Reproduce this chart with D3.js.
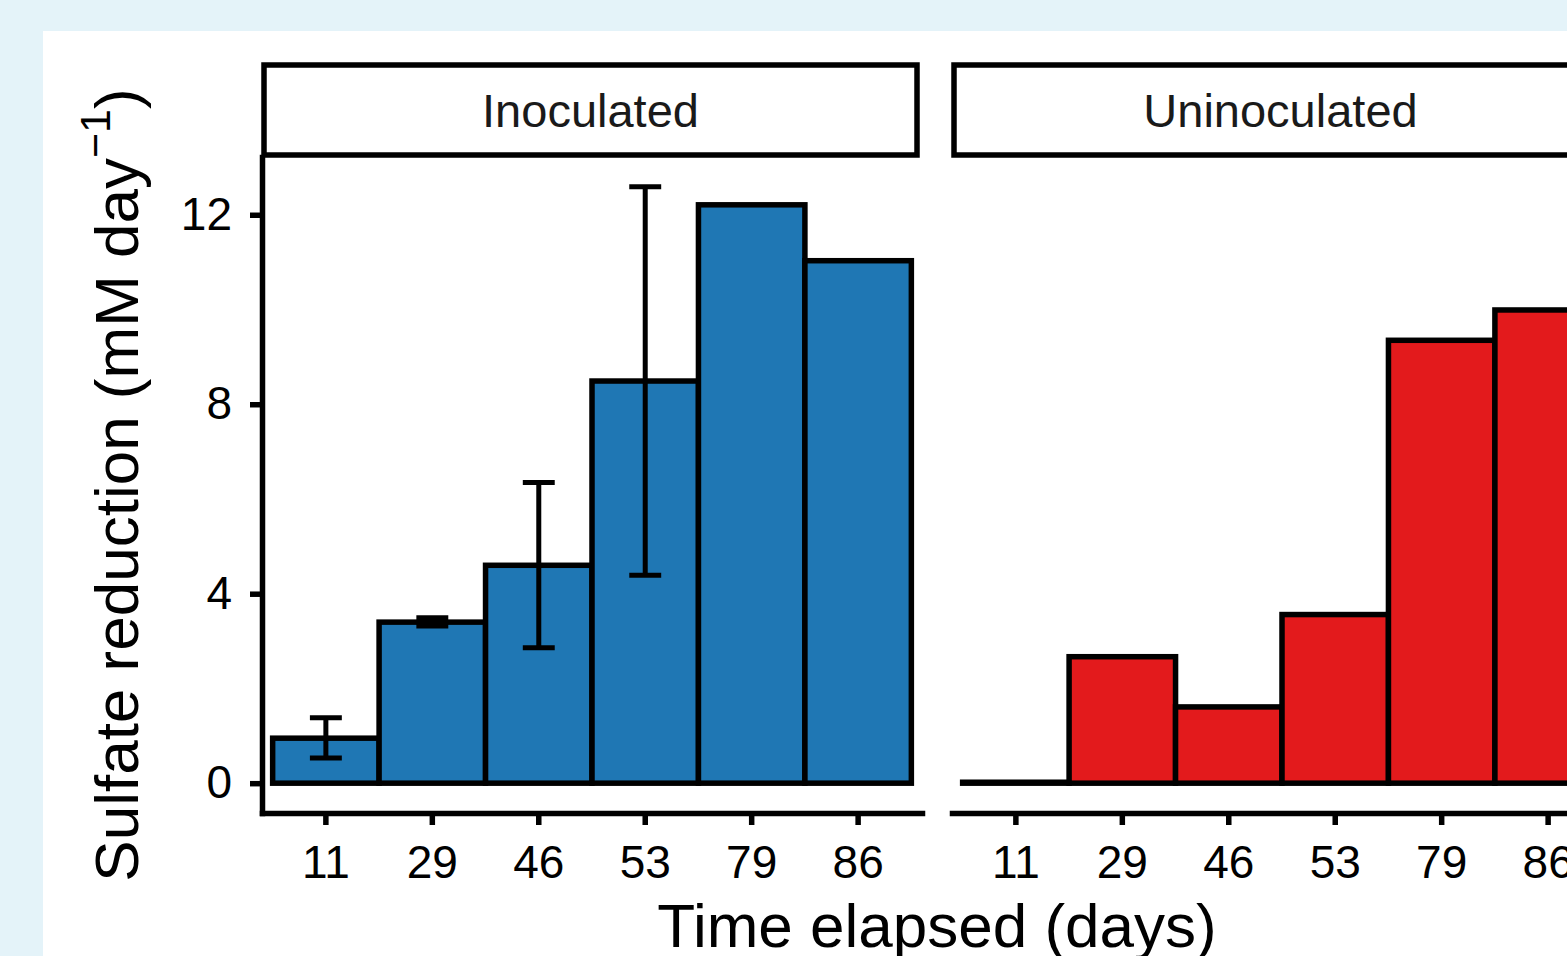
<!DOCTYPE html>
<html>
<head>
<meta charset="utf-8">
<script src="https://cdn.jsdelivr.net/npm/d3@7"></script>
<style>
  html, body { margin: 0; padding: 0; background: #e4f3f9; }
  svg { display: block; }
  text { font-family: "Liberation Sans", Arial, Helvetica, sans-serif; }
</style>
</head>
<body>
<svg id="chart" width="1567" height="956"></svg>
<script>
// ---- data ----
const days = ["11", "29", "46", "53", "79", "86"];
const treatments = ["Inoculated", "Uninoculated"];
const inoculatedMean = [0.95, 3.40, 4.60, 8.49, 12.21, 11.03];
const inoculatedLow  = [0.53, 3.32, 2.86, 4.39, null, null];
const inoculatedHigh = [1.38, 3.49, 6.35, 12.59, null, null];
const uninoculatedMean = [0.02, 2.67, 1.61, 3.56, 9.35, 9.99];
const uninoculatedLow  = [null, null, null, null, null, null];
const uninoculatedHigh = [null, null, null, null, null, null];
const yTicks = [0, 4, 8, 12];
const fillColors = ["#1f77b4", "#e31a1c"];

const series = [
  { name: treatments[0], mean: inoculatedMean, lo: inoculatedLow, hi: inoculatedHigh, color: fillColors[0] },
  { name: treatments[1], mean: uninoculatedMean, lo: uninoculatedLow, hi: uninoculatedHigh, color: fillColors[1] }
];

// ---- layout ----
const svg = d3.select("#chart");
svg.append("rect").attr("x", 0).attr("y", 0).attr("width", 1567).attr("height", 956).attr("fill", "#e4f3f9");
svg.append("rect").attr("x", 43).attr("y", 31).attr("width", 1567 - 43).attr("height", 956 - 31).attr("fill", "#ffffff");

const panelTop = 157, panelBottom = 813;
const panelW = 660;
const panelX0 = [262, 952];
const LW = 5.5;

const allVals = [];
series.forEach(s => { s.mean.forEach(v => allVals.push(v)); s.hi.forEach(v => { if (v != null) allVals.push(v); }); });
const yMax = d3.max(allVals), yMin = 0;
const pad = (yMax - yMin) * 0.05;
const y = d3.scaleLinear().domain([yMin - pad, yMax + pad]).range([panelBottom, panelTop]);

series.forEach((s, i) => {
  const x0 = panelX0[i];
  const x = d3.scaleBand().domain(days).range([x0, x0 + panelW]).paddingInner(0).paddingOuter(0.1);
  const g = svg.append("g");

  // strip
  g.append("rect")
    .attr("x", x0 + 2).attr("y", 65).attr("width", 653).attr("height", 90)
    .attr("fill", "#ffffff").attr("stroke", "#000").attr("stroke-width", LW);
  g.append("text")
    .attr("x", x0 + 2 + 653 / 2).attr("y", 127)
    .attr("text-anchor", "middle").attr("font-size", 47).attr("fill", "#1a1a1a")
    .text(s.name);

  // bars
  const rows = days.map((d, j) => ({ day: d, v: s.mean[j], lo: s.lo[j], hi: s.hi[j] }));
  g.selectAll("rect.bar").data(rows).enter().append("rect")
    .attr("class", "bar")
    .attr("x", d => x(d.day)).attr("width", x.bandwidth())
    .attr("y", d => y(d.v)).attr("height", d => y(0) - y(d.v))
    .attr("fill", s.color).attr("stroke", "#000").attr("stroke-width", LW);

  // error bars
  const eb = rows.filter(d => d.lo != null && d.hi != null);
  const capW = x.bandwidth() * 0.3;
  const ebg = g.selectAll("g.eb").data(eb).enter().append("g").attr("class", "eb")
    .attr("stroke", "#000").attr("stroke-width", 5);
  ebg.append("line")
    .attr("x1", d => x(d.day) + x.bandwidth() / 2).attr("x2", d => x(d.day) + x.bandwidth() / 2)
    .attr("y1", d => y(d.lo)).attr("y2", d => y(d.hi));
  ebg.append("line")
    .attr("x1", d => x(d.day) + x.bandwidth() / 2 - capW / 2).attr("x2", d => x(d.day) + x.bandwidth() / 2 + capW / 2)
    .attr("y1", d => y(d.lo)).attr("y2", d => y(d.lo));
  ebg.append("line")
    .attr("x1", d => x(d.day) + x.bandwidth() / 2 - capW / 2).attr("x2", d => x(d.day) + x.bandwidth() / 2 + capW / 2)
    .attr("y1", d => y(d.hi)).attr("y2", d => y(d.hi));

  // x axis
  const xa = g.append("g").attr("transform", `translate(0,${panelBottom})`)
    .call(d3.axisBottom(x).tickSize(12).tickSizeOuter(0).tickPadding(20));
  xa.select(".domain").attr("stroke", "#000").attr("stroke-width", LW).attr("stroke-linecap", "square");
  xa.selectAll(".tick line").attr("stroke", "#000").attr("stroke-width", LW);
  xa.selectAll(".tick text").attr("font-size", 46).attr("fill", "#000")
    .attr("font-family", "'Liberation Sans', Arial, Helvetica, sans-serif");

  // y axis only on first panel
  if (i === 0) {
    const ya = g.append("g").attr("transform", `translate(${x0},0)`)
      .call(d3.axisLeft(y).tickValues(yTicks).tickSize(12).tickSizeOuter(0).tickPadding(18));
    ya.select(".domain").attr("stroke", "#000").attr("stroke-width", LW).attr("stroke-linecap", "square");
    ya.selectAll(".tick line").attr("stroke", "#000").attr("stroke-width", LW);
    ya.selectAll(".tick text").attr("font-size", 46).attr("fill", "#000")
      .attr("font-family", "'Liberation Sans', Arial, Helvetica, sans-serif");
  }
});

// axis titles
svg.append("text")
  .attr("x", (panelX0[0] + panelX0[1] + panelW) / 2).attr("y", 947)
  .attr("text-anchor", "middle").attr("font-size", 62).attr("fill", "#000")
  .text("Time elapsed (days)");

const yt = svg.append("text")
  .attr("transform", `translate(138,${(panelTop + panelBottom) / 2}) rotate(-90)`)
  .attr("text-anchor", "middle").attr("font-size", 62).attr("fill", "#000");
yt.append("tspan").text("Sulfate reduction (mM day");
yt.append("tspan").attr("font-size", 43).attr("dy", -28).text("\u22121");
yt.append("tspan").attr("dy", 28).text(")");
</script>
</body>
</html>
